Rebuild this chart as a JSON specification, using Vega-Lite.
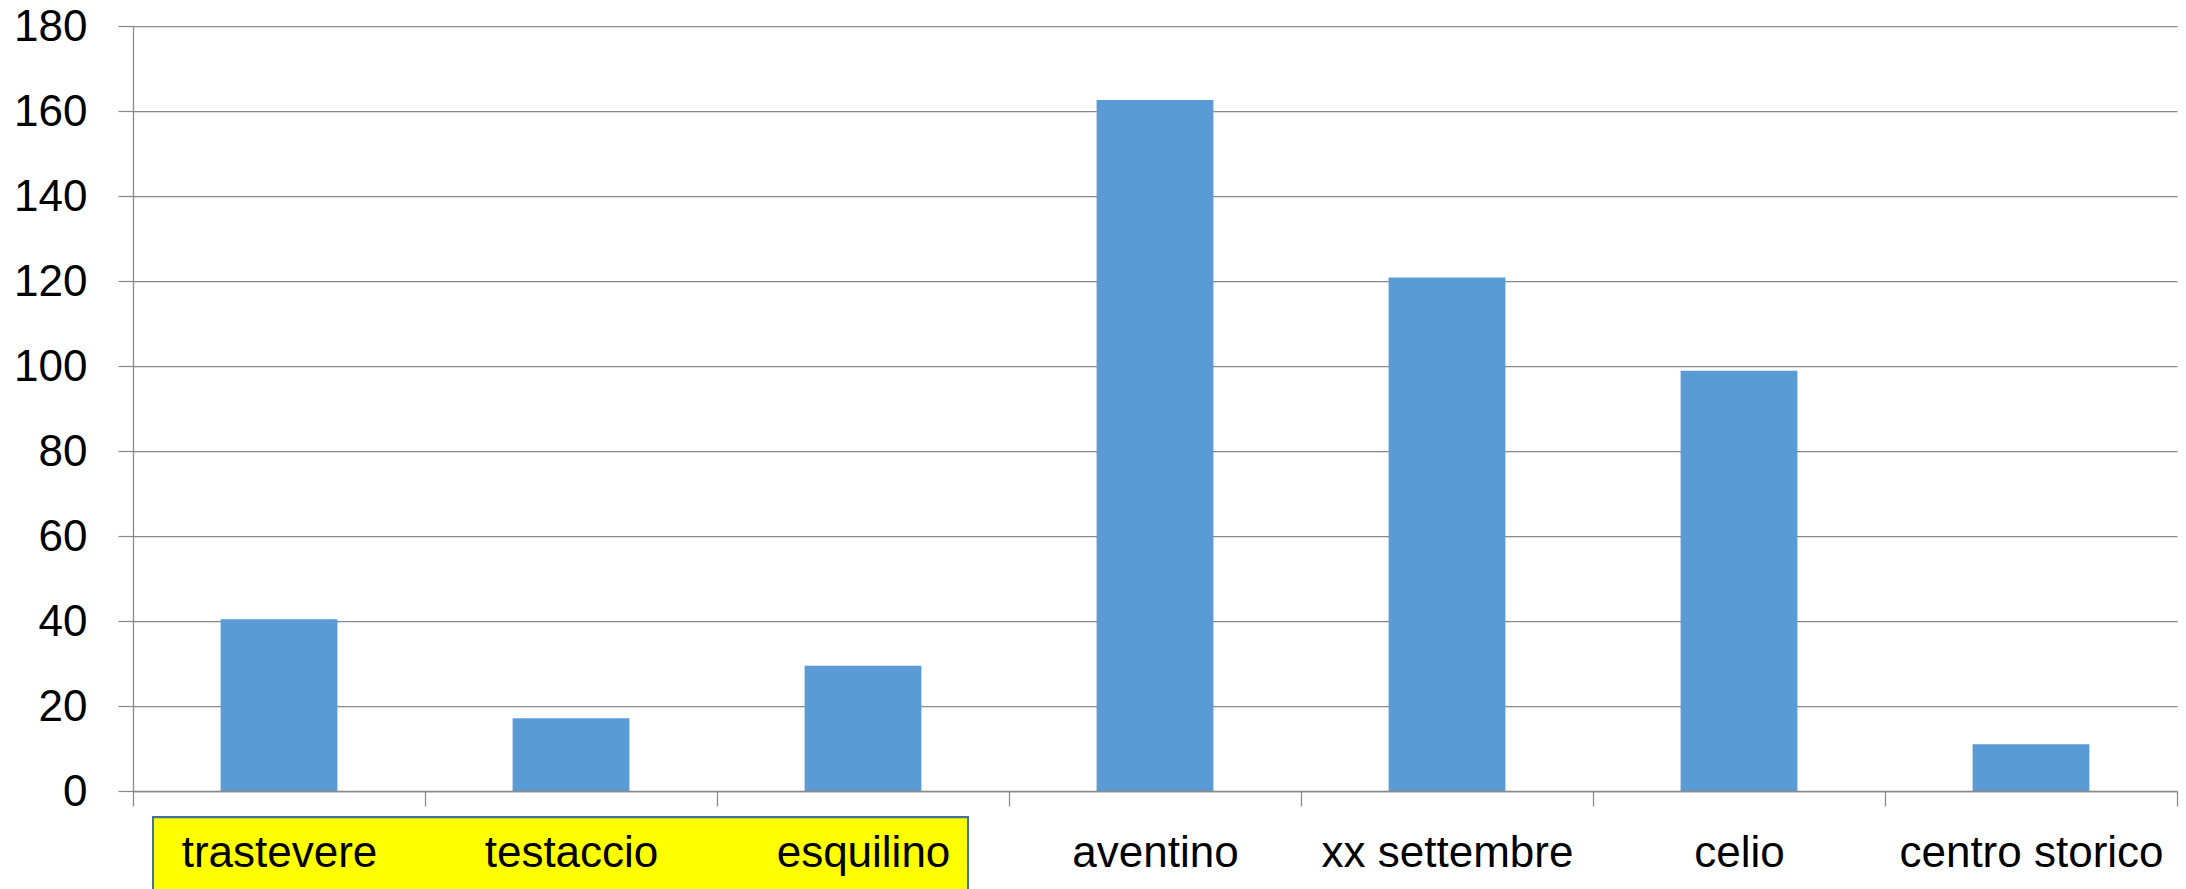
{
  "$schema": "https://vega.github.io/schema/vega-lite/v6.json",
  "autosize": {"type": "none"},
  "padding": {"left": 133, "top": 26, "right": 9, "bottom": 98},
  "width": 2044,
  "height": 765,
  "background": "white",
  "config": {
    "view": {"stroke": null},
    "font": "Liberation Sans"
  },
  "data": {
    "values": [
      {"district": "trastevere", "value": 40.4},
      {"district": "testaccio", "value": 17.1},
      {"district": "esquilino", "value": 29.5},
      {"district": "aventino", "value": 162.6},
      {"district": "xx settembre", "value": 120.8},
      {"district": "celio", "value": 98.9},
      {"district": "centro storico", "value": 11.0}
    ]
  },
  "layer": [
    {
      "mark": {"type": "rect", "fill": "#FFFF00", "stroke": "#41719C", "strokeWidth": 2, "xOffset": 20, "x2Offset": -41},
      "encoding": {
        "x": {"datum": "trastevere", "bandPosition": 0},
        "x2": {"datum": "esquilino", "bandPosition": 1},
        "y": {"datum": -6.2},
        "y2": {"datum": -26}
      }
    },
    {
      "mark": {"type": "bar", "color": "#5B9BD5", "width": {"band": 0.4}},
      "encoding": {
        "x": {
          "field": "district",
          "type": "nominal",
          "scale": {"domain": ["trastevere", "testaccio", "esquilino", "aventino", "xx settembre", "celio", "centro storico"], "paddingInner": 0, "paddingOuter": 0},
          "axis": {
            "title": null,
            "labelAngle": 0,
            "labelFontSize": 44,
            "labelColor": "#000000",
            "labelPadding": 47,
            "labelLimit": 0,
            "labelAlign": "center",
            "tickBand": "extent",
            "tickSize": 15,
            "tickColor": "#898989",
            "tickWidth": 1.25,
            "domainColor": "#898989",
            "domainWidth": 1.5,
            "grid": false,
            "zindex": 1
          }
        },
        "y": {
          "field": "value",
          "type": "quantitative",
          "scale": {"domain": [0, 180], "nice": false},
          "axis": {
            "title": null,
            "values": [0, 20, 40, 60, 80, 100, 120, 140, 160, 180],
            "labelFontSize": 44,
            "labelColor": "#000000",
            "labelPadding": 31,
            "labelOffset": 1,
            "tickSize": 15,
            "tickColor": "#898989",
            "tickWidth": 1.25,
            "domainColor": "#898989",
            "domainWidth": 1.25,
            "grid": true,
            "gridColor": "#898989",
            "gridWidth": 1.25,
            "zindex": 0
          }
        }
      }
    }
  ]
}
